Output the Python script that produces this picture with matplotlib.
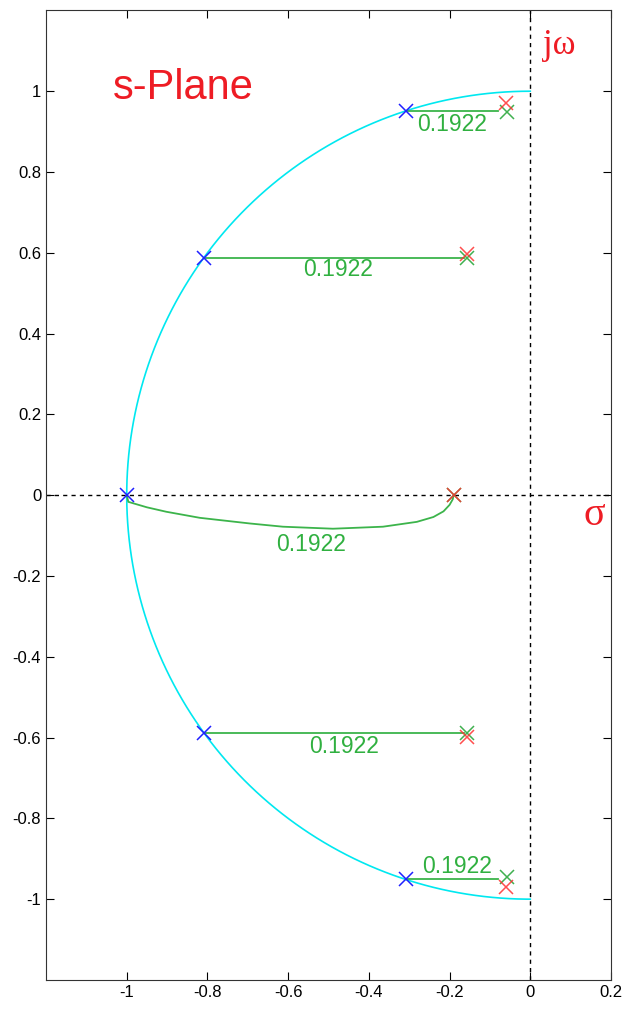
import numpy as np
import matplotlib
matplotlib.use("Agg")
import matplotlib.pyplot as plt

plt.rcParams['font.family'] = ['Liberation Sans', 'DejaVu Sans']

# unit-circle (Butterworth) poles, blue
blue_re = [-0.309, -0.809, -1.0, -0.809, -0.309]
blue_im = [0.951, 0.588, 0.0, -0.588, -0.951]

# shifted poles, red
red_re = [-0.060, -0.157, -0.190, -0.157, -0.060]
red_im = [0.970, 0.598, 0.0, -0.598, -0.969]

# end points, green
green_re = [-0.057, -0.156, -0.190, -0.156, -0.058]
green_im = [0.949, 0.588, 0.0, -0.588, -0.946]

# paths (green lines)
path_top_re = [-0.309, -0.079]
path_top_im = [0.951, 0.951]
path_up_re = [-0.809, -0.165]
path_up_im = [0.588, 0.588]
path_mid_re = [-1.0, -0.996, -0.95, -0.902, -0.819, -0.695, -0.613, -0.489, -0.365, -0.281, -0.240, -0.215, -0.200, -0.192, -0.190]
path_mid_im = [0.0, -0.0165, -0.030, -0.041, -0.056, -0.070, -0.078, -0.083, -0.078, -0.066, -0.054, -0.040, -0.024, -0.010, 0.0]
path_lo_re = [-0.809, -0.165]
path_lo_im = [-0.588, -0.588]
path_bot_re = [-0.309, -0.079]
path_bot_im = [-0.951, -0.951]

label_txt = "0.1922"
label_re = [-0.194, -0.476, -0.543, -0.461, -0.181]
label_im = [0.918, 0.559, -0.121, -0.621, -0.918]

fig = plt.figure(figsize=(6.26, 10.11), dpi=100)
ax = fig.add_axes([0.0735, 0.0307, 0.9025, 0.959])

# unit semicircle
th = np.linspace(np.pi / 2, 3 * np.pi / 2, 300)
ax.plot(np.cos(th), np.sin(th), color='#00e8f0', lw=1.2, zorder=2)

ax.axhline(0, color='black', lw=1, linestyle=(0, (3, 3)), zorder=1)
ax.axvline(0, color='black', lw=1, linestyle=(0, (3, 3)), zorder=1)

gc = '#3cb44b'
for xs, ys in [(path_top_re, path_top_im), (path_up_re, path_up_im),
               (path_mid_re, path_mid_im), (path_lo_re, path_lo_im),
               (path_bot_re, path_bot_im)]:
    ax.plot(xs, ys, color=gc, lw=1.3, zorder=3)

ax.plot(green_re, green_im, 'x', color='#40b050', ms=9.5, mew=1.1, zorder=4)
ax.plot(red_re, red_im, 'x', color='#ff3030', ms=9.5, mew=1.1, alpha=0.85, zorder=5)
ax.plot(blue_re, blue_im, 'x', color='#2020ff', ms=9.5, mew=1.1, zorder=6)

for x, y in zip(label_re, label_im):
    ax.text(x, y, label_txt, color='#30b040', fontsize=16.5, ha='center', va='center')

ax.text(-0.861, 1.007, "s-Plane", color='#ee1c24', fontsize=30, ha='center', va='center')
ax.text(0.073, 1.114, "j\u03c9", color='#ee1c24', fontsize=25, ha='center', va='center',
        family=['Liberation Serif', 'DejaVu Serif'])
ax.text(0.158, -0.05, "\u03c3", color='#ee1c24', fontsize=29, ha='center', va='center',
        family=['Liberation Serif', 'DejaVu Serif'])

ax.set_xlim(-1.2, 0.2)
ax.set_ylim(-1.2, 1.2)
ax.set_xticks(np.round(np.arange(-1.0, 0.21, 0.2), 1))
ax.set_xticklabels(['-1', '-0.8', '-0.6', '-0.4', '-0.2', '0', '0.2'])
ax.set_yticks(np.round(np.arange(-1.0, 1.01, 0.2), 1))
ax.set_yticklabels(['-1', '-0.8', '-0.6', '-0.4', '-0.2', '0', '0.2', '0.4', '0.6', '0.8', '1'])
ax.tick_params(direction='in', top=True, right=True, length=6, labelsize=12)
for s in ax.spines.values():
    s.set_color('#333333')

fig.savefig("out.png", dpi=100)
